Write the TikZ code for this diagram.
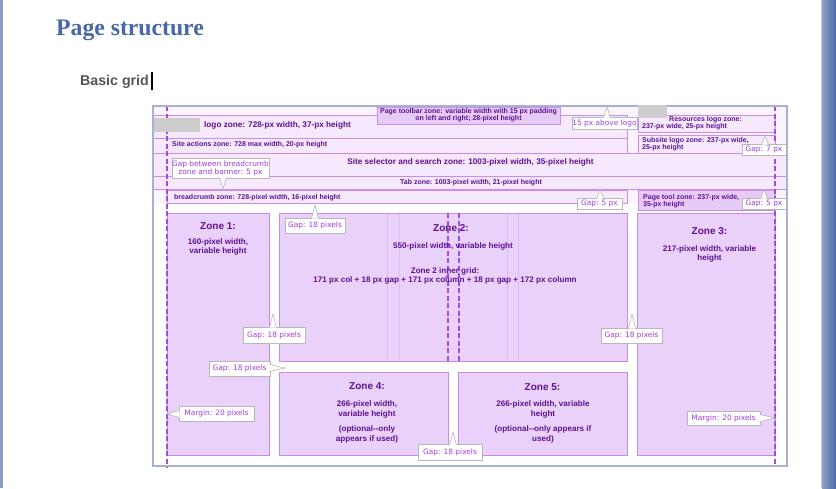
\documentclass[tikz,border=0pt]{standalone}
\usepackage{fontspec}
\setmainfont{Liberation Sans}
\newfontfamily\callfont{DejaVu Sans}
\newfontfamily\titlefont{Liberation Serif}
\usetikzlibrary{calc}
\definecolor{zonefill}{HTML}{E9D1FA}
\definecolor{zoneline}{HTML}{C68AEB}
\definecolor{rowfill}{HTML}{F6E9FD}
\definecolor{bandfill}{HTML}{FBF4FF}
\definecolor{rowline}{HTML}{C98DEB}
\definecolor{tbfill}{HTML}{E7CBF7}
\definecolor{ztext}{HTML}{5E1190}
\definecolor{calltext}{HTML}{A23CE6}
\definecolor{callline}{HTML}{B8B8B8}
\definecolor{dashc}{HTML}{A24BE3}
\definecolor{framec}{HTML}{A5B2D1}
\definecolor{faintc}{HTML}{DCBDF2}
\definecolor{logogray}{HTML}{CDCDCD}
\definecolor{titleblue}{HTML}{4767A8}
\definecolor{basicgray}{HTML}{555555}
\definecolor{edgeblue}{HTML}{8A9FC8}
\definecolor{stripL}{HTML}{8CA1CA}
\definecolor{stripR}{HTML}{4C69A2}
\newcommand{\ptrN}[2]{\filldraw[ptr] ($(#1.north -| #2)+(-3.5,0.8)$) -- (#2) -- ($(#1.north -| #2)+(3.5,0.8)$);}
\newcommand{\ptrS}[2]{\filldraw[ptr] ($(#1.south -| #2)+(-3.5,-0.8)$) -- (#2) -- ($(#1.south -| #2)+(3.5,-0.8)$);}
\newcommand{\ptrE}[2]{\filldraw[ptr] ($(#1.east |- #2)+(-0.8,-3.5)$) -- (#2) -- ($(#1.east |- #2)+(-0.8,3.5)$);}
\newcommand{\ptrW}[2]{\filldraw[ptr] ($(#1.west |- #2)+(0.8,-3.5)$) -- (#2) -- ($(#1.west |- #2)+(0.8,3.5)$);}
\begin{document}
\begin{tikzpicture}[x=1pt,y=-1pt,
  zone/.style={draw=zoneline, fill=zonefill, line width=0.8pt},
  row/.style={draw=rowline, fill=rowfill, line width=0.7pt},
  mdash/.style={draw=dashc, line width=1.1pt, dash pattern=on 5pt off 2.5pt},
  faint/.style={draw=faintc, line width=0.6pt},
  ztitle/.style={text=ztext, font=\fontsize{10}{11}\selectfont\bfseries, align=center, inner sep=0pt},
  ztxt/.style={text=ztext, font=\fontsize{8.1}{9.5}\selectfont\bfseries, align=center, inner sep=0pt},
  rtxt/.style={text=ztext, font=\fontsize{7}{7}\selectfont\bfseries, inner sep=0pt},
  rtxtL/.style={text=ztext, font=\fontsize{8.2}{9}\selectfont\bfseries, inner sep=0pt},
  call/.style={draw=callline, fill=white, text=calltext, font=\callfont\fontsize{7.4}{8}\selectfont, inner sep=0pt, line width=0.6pt, align=center},
  ptr/.style={fill=white, draw=callline, line width=0.6pt}]
\useasboundingbox (0,0) rectangle (836,488);
\fill[white] (0,0) rectangle (836,488);
\fill[edgeblue] (0,0) rectangle (3,488);
\shade[left color=stripL, right color=stripR] (822,0) rectangle (836,488);
\draw[gray!40, line width=0.8pt] (821,0) -- (821,488);

% header
\node[anchor=base west, inner sep=0pt, text=titleblue, font=\titlefont\bfseries\fontsize{23.7}{26}\selectfont] (title) at (56,35) {Page structure};
\node[anchor=base west, inner sep=0pt, text=basicgray, font=\bfseries\fontsize{14.2}{16}\selectfont] (basic) at (80,85) {Basic grid};
\draw[black, line width=1.3pt] (152,72) -- (152,90);

% top band and rows
\fill[bandfill] (153,106) rectangle (787,203);
\draw[row] (153,115) rectangle (627,138);
\draw[row] (153,138) rectangle (627,153);
\draw[row] (638,115) rectangle (775,132);
\draw[row] (638,135) rectangle (775,153);
\draw[row] (153,153) rectangle (787,176);
\draw[row] (153,176) rectangle (787,189);
\draw[row] (167,190) rectangle (627,203);
\draw[row, fill=tbfill] (638,190) rectangle (775,210);
\draw[row, fill=tbfill] (377,107) rectangle (560,124);

% zones
\draw[zone] (167,213) rectangle (269,455);
\draw[zone] (279,213) rectangle (627,361);
\draw[zone] (637,213) rectangle (775,455);
\draw[zone] (279,372) rectangle (448,455);
\draw[zone] (458,372) rectangle (627,455);
\foreach \xx in {387,399,507,518} \draw[faint] (\xx,214) -- (\xx,360);

% dashed guides
\draw[mdash] (167,106) -- (167,468);
\draw[mdash] (775,106) -- (775,464);
\draw[mdash] (448,213) -- (448,361);
\draw[mdash] (459,213) -- (459,361);

% frame
\draw[framec, line width=1.8pt] (153,106) rectangle (787,466);

% gray logo placeholders
\fill[logogray] (154,118) rectangle (200,132);

% row texts
\node[rtxt, align=center] (tbt) at (468.5,115.5) {Page toolbar zone: variable width with 15 px padding\\on left and right; 28-pixel height};
\node[rtxtL, anchor=west] (logot) at (204,125.5) {logo zone: 728-px width, 37-px height};
\node[rtxt, anchor=west] (sat) at (172,144.5) {Site actions zone: 728 max width, 20-px height};
\node[rtxt, anchor=west] (rest1) at (669,119.5) {Resources logo zone:};
\node[rtxt, anchor=west] (rest2) at (642,126.5) {237-px wide, 25-px height};
\fill[logogray] (638,105) rectangle (667,118);
\node[rtxt, anchor=west, align=left] (subt) at (642,144) {Subsite logo zone: 237-px wide,\\25-px height};
\node[rtxtL] (sst) at (470.5,162.5) {Site selector and search zone: 1003-pixel width, 35-pixel height};
\node[rtxt] (tabt) at (471,182.5) {Tab zone: 1003-pixel width, 21-pixel height};
\node[rtxt, anchor=west] (bct) at (174,197.5) {breadcrumb zone: 728-pixel width, 16-pixel height};
\node[rtxt, anchor=west, align=left] (ptt) at (643,201.5) {Page tool zone: 237-px wide,\\35-px height};

% zone texts
\node[ztitle] (z1t) at (218,226) {Zone 1:};
\node[ztxt] (z1b) at (218,247) {160-pixel width,\\variable height};
\node[ztitle] (z2t) at (451,228) {Zone 2:};
\node[ztxt] (z2b) at (453,246.5) {550-pixel width, variable height};
\node[ztxt] (z2c) at (445,276) {Zone 2 inner grid:\\171 px col + 18 px gap + 171 px column + 18 px gap + 172 px column};
\node[ztitle] (z3t) at (709.5,231) {Zone 3:};
\node[ztxt] (z3b) at (709.5,254) {217-pixel width, variable\\height};
\node[ztitle] (z4t) at (367,386.5) {Zone 4:};
\node[ztxt] (z4b) at (367,409.5) {266-pixel width,\\variable height};
\node[ztxt] (z4c) at (367,434.5) {(optional-{}-only\\appears if used)};
\node[ztitle] (z5t) at (542.5,387.5) {Zone 5:};
\node[ztxt] (z5b) at (543,409.5) {266-pixel width, variable\\height};
\node[ztxt] (z5c) at (543,434.5) {(optional-{}-only appears if\\used)};

% callouts
\coordinate (t1) at (223,189);
\node[call, minimum width=95pt, minimum height=20pt] (c1) at (220.5,168) {Gap between breadcrumb\\zone and banner: 5 px};
\ptrS{c1}{t1}
\coordinate (t2) at (607,107);
\node[call, minimum width=65pt, minimum height=12pt] (c2) at (604.5,123.5) {15 px above logo};
\ptrN{c2}{t2}
\coordinate (t3) at (765,136);
\node[call, minimum width=44pt, minimum height=11pt] (c3) at (764,149.5) {Gap: 7 px};
\ptrN{c3}{t3}
\coordinate (t4) at (600,190);
\node[call, minimum width=45pt, minimum height=11pt] (c4) at (599.5,203.5) {Gap: 5 px};
\ptrN{c4}{t4}
\coordinate (t5) at (764,190);
\node[call, minimum width=44pt, minimum height=11pt] (c5) at (764,203.5) {Gap: 5 px};
\ptrN{c5}{t5}
\coordinate (t6) at (315,205);
\node[call, minimum width=60pt, minimum height=15pt] (c6) at (315,225.5) {Gap: 18 pixels};
\ptrN{c6}{t6}
\coordinate (t7) at (273,314);
\node[call, minimum width=62pt, minimum height=16pt] (c7) at (274,335) {Gap: 18 pixels};
\ptrN{c7}{t7}
\coordinate (t8) at (632,314);
\node[call, minimum width=61pt, minimum height=15pt] (c8) at (631.5,335.5) {Gap: 18 pixels};
\ptrN{c8}{t8}
\coordinate (t9) at (285,368);
\node[call, minimum width=61pt, minimum height=15pt] (c9) at (239.5,368.5) {Gap: 18 pixels};
\ptrE{c9}{t9}
\coordinate (t10) at (167,414);
\node[call, minimum width=75pt, minimum height=15pt] (c10) at (216.5,413.5) {Margin: 20 pixels};
\ptrW{c10}{t10}
\coordinate (t11) at (453,432);
\node[call, minimum width=64pt, minimum height=16pt] (c11) at (450,452.5) {Gap: 18 pixels};
\ptrN{c11}{t11}
\coordinate (t12) at (775,418);
\node[call, minimum width=73pt, minimum height=14pt] (c12) at (723.5,418) {Margin: 20 pixels};
\ptrE{c12}{t12}
\end{tikzpicture}
\end{document}
